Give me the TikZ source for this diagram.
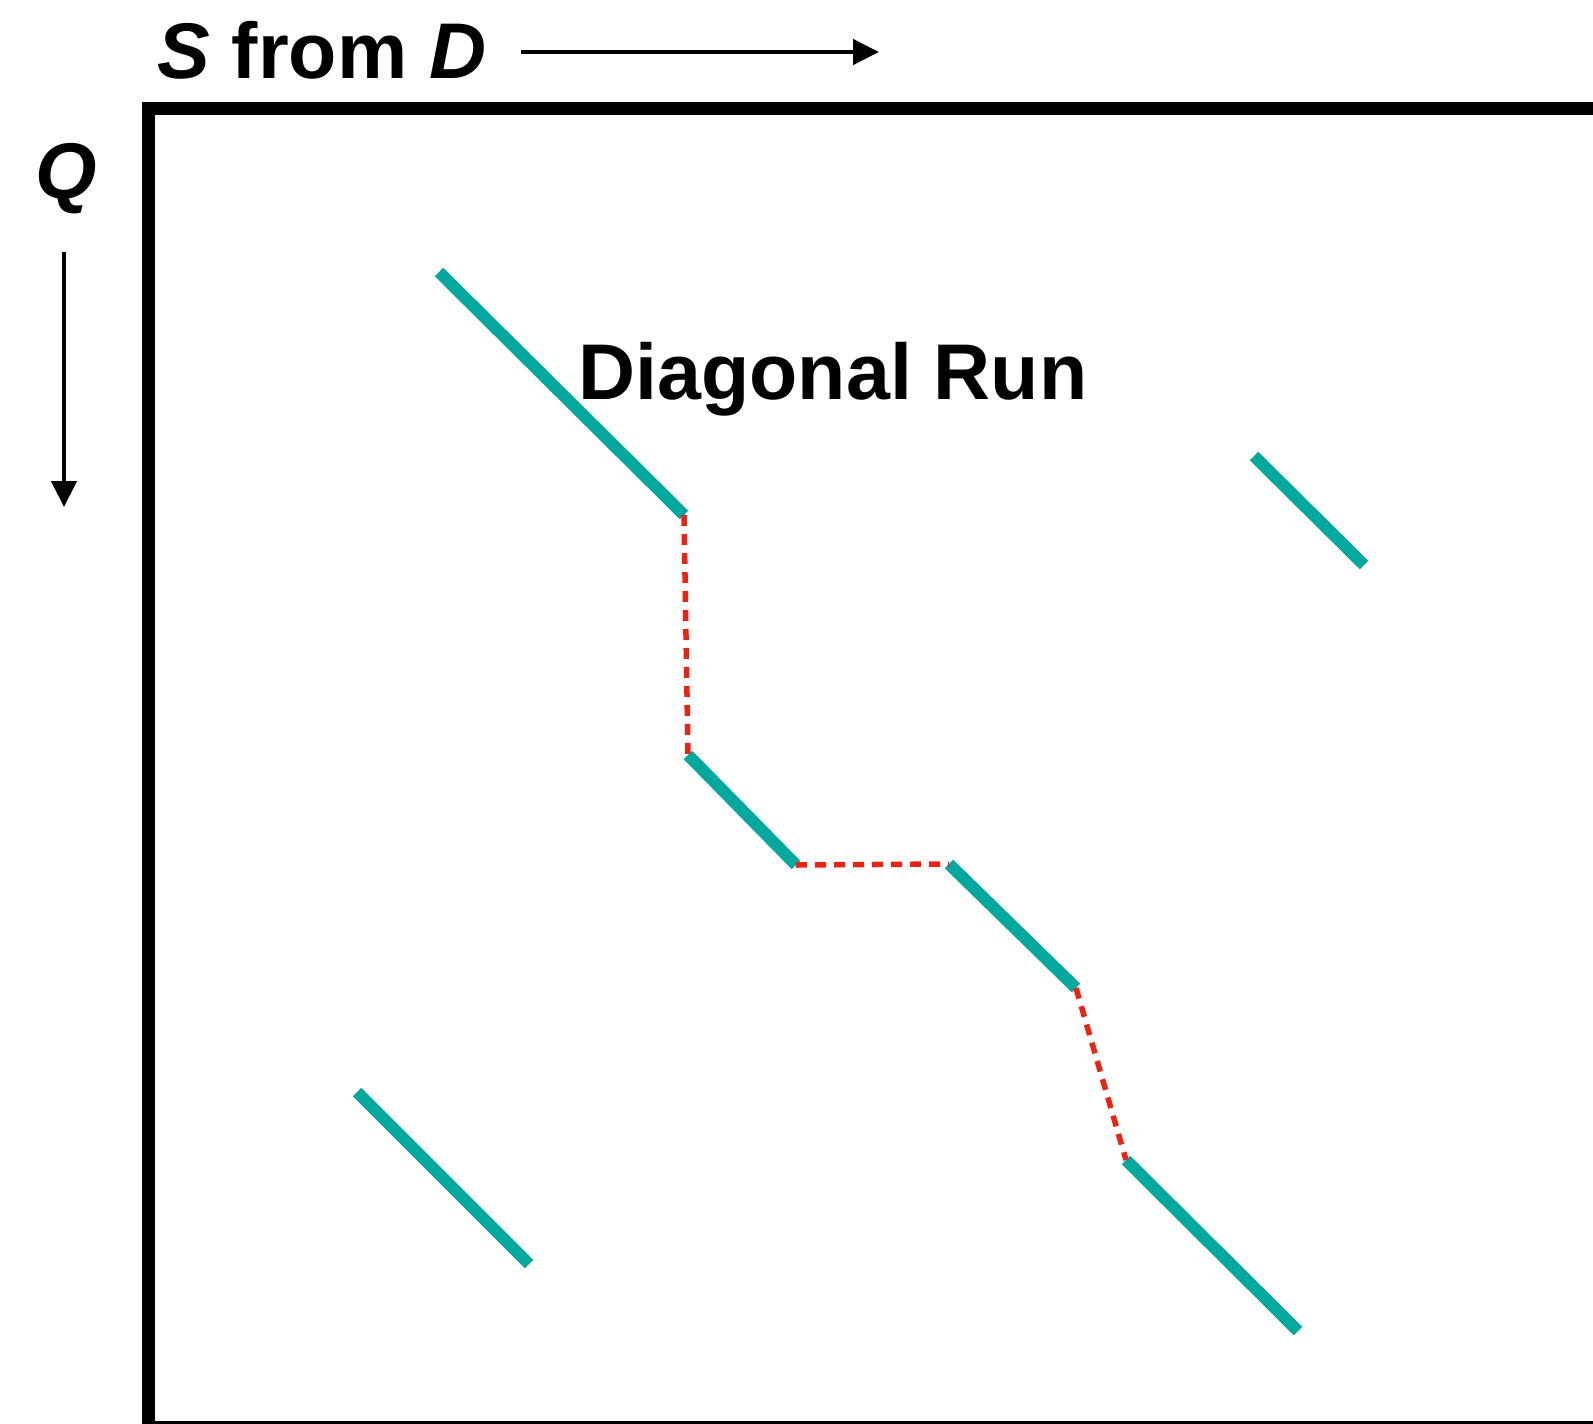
\documentclass[tikz,border=0pt]{standalone}
\usepackage{fontspec}
\setmainfont{Liberation Sans}
\usetikzlibrary{arrows.meta}

\definecolor{runteal}{RGB}{0,168,157}
\definecolor{gapred}{RGB}{238,34,17}

\tikzset{
  run/.style={draw=runteal, line width=12pt},
  gap/.style={draw=gapred, line width=5.5pt, dash pattern=on 11pt off 8pt},
  axis/.style={line width=4.5pt, -{Triangle[length=26pt,width=25pt]}},
  lbl/.style={font=\fontsize{79}{79}\selectfont\bfseries, inner sep=0pt}
}

\begin{document}
\begin{tikzpicture}[x=1pt, y=-1pt]
  \useasboundingbox (0,0) rectangle (1593,1424);
  % frame
  \draw[line width=13pt] (148,108) rectangle (1610,1427);
  % labels
  \node[lbl, anchor=base west] (sd) at (157,78) {\textit{S} from \textit{D}};
  \node[lbl, anchor=base west] (q) at (35,198) {\textit{Q}};
  \node[lbl, anchor=base] (title) at (833,399) {Diagonal Run};
  % axis arrows
  \coordinate (x0) at (521,52);
  \coordinate (x1) at (879,52);
  \coordinate (y0) at (64,252);
  \coordinate (y1) at (64,507);
  \draw[axis] (x0) -- (x1);
  \draw[axis] (y0) -- (y1);
  % diagonal runs
  \coordinate (a1) at (439,272);
  \coordinate (a2) at (684,515);
  \coordinate (b1) at (688,755);
  \coordinate (b2) at (796,865);
  \coordinate (c1) at (949,864);
  \coordinate (c2) at (1076,988);
  \coordinate (d1) at (1126,1160);
  \coordinate (d2) at (1298,1331);
  \coordinate (e1) at (1254,456);
  \coordinate (e2) at (1364,565);
  \coordinate (f1) at (357,1092);
  \coordinate (f2) at (529,1264);
  \draw[run] (a1) -- (a2);
  \draw[run] (b1) -- (b2);
  \draw[run] (c1) -- (c2);
  \draw[run] (d1) -- (d2);
  \draw[run] (e1) -- (e2);
  \draw[run] (f1) -- (f2);
  % jumps between runs
  \draw[gap] (a2) -- (b1);
  \draw[gap] (b2) -- (c1);
  \draw[gap] (c2) -- (d1);
\end{tikzpicture}
\end{document}
